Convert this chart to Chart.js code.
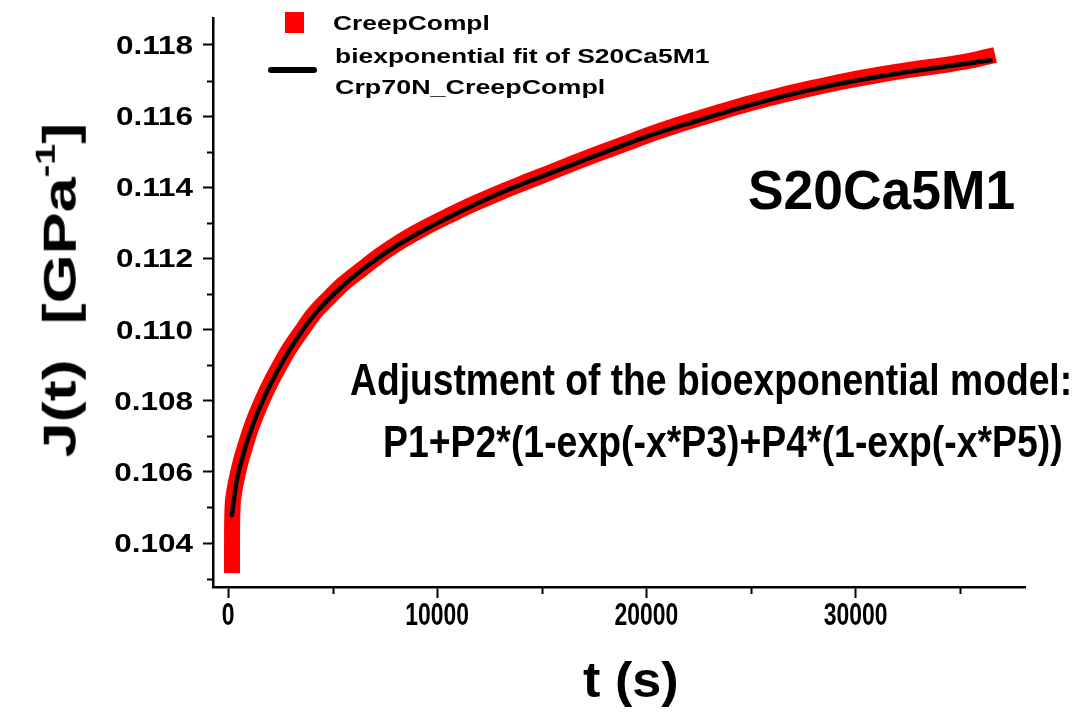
<!DOCTYPE html>
<html>
<head>
<meta charset="utf-8">
<script src="https://cdn.jsdelivr.net/npm/chart.js@4"></script>
<style>
  body { margin: 0; background: #fff; }
  #wrap { position: relative; width: 1080px; height: 717px; overflow: hidden; }
  .txt { position: absolute; white-space: nowrap; font-family: "Liberation Sans", Arial, sans-serif;
         font-weight: bold; color: #000; line-height: 1; }
  #ytitle sup { font-size: 0.6em; vertical-align: 0.75em; }
  .box { position: absolute; }
</style>
</head>
<body>
<div id="wrap">
  <canvas id="chart" width="1080" height="717"></canvas>

  <div class="box" style="left:285px;top:12px;width:19px;height:21px;background:#ff0000"></div>
  <div class="box" style="left:268px;top:67px;width:49px;height:6px;background:#000;border-radius:3px"></div>
  <div class="txt" id="lg1" style="font-size:21px">CreepCompl</div>
  <div class="txt" id="lg2" style="font-size:21px">biexponential fit of S20Ca5M1</div>
  <div class="txt" id="lg3" style="font-size:21px">Crp70N_CreepCompl</div>

  <div class="txt" id="sample" style="font-size:55px">S20Ca5M1</div>
  <div class="txt" id="adj" style="font-size:44px">Adjustment of the bioexponential model:</div>
  <div class="txt" id="formula" style="font-size:44px">P1+P2*(1-exp(-x*P3)+P4*(1-exp(-x*P5))</div>

  <div class="txt" id="ytitle" style="font-size:47px">J(t)&nbsp;&nbsp;[GPa<sup>-1</sup>]</div>
  <div class="txt" id="xtitle" style="font-size:50px">t (s)</div>
</div>
<script>
const creepT = [188, 190, 200, 260, 400, 600, 800, 1050, 1350, 1700, 2070, 2500, 2950, 3500, 4070,
  4800, 5500, 6400, 7260, 8230, 9400, 10620, 11800, 13020, 14200, 15410, 16600, 17800, 19000,
  20190, 21300, 22430, 23600, 24820, 26400, 28010, 29600, 31200, 32800, 34390, 35400, 36300];
const creepJ = [0.10338, 0.10400, 0.10470, 0.10530, 0.10577, 0.10628, 0.10668, 0.10715, 0.10762,
  0.10810, 0.10855, 0.10902, 0.10948, 0.10995, 0.11042, 0.11088, 0.11128, 0.11170, 0.11209,
  0.11247, 0.11286, 0.11322, 0.11355, 0.11386, 0.11414, 0.11442, 0.11470, 0.11497, 0.11523,
  0.11549, 0.11571, 0.11592, 0.11613, 0.11634, 0.11658, 0.11680, 0.11700, 0.11717, 0.11732,
  0.11745, 0.11755, 0.11767];

// biexponential fit curve
const fitT = [180, 400, 800, 1350, 2070, 2950, 4070, 5500, 7260, 8230, 10620, 13020, 15410,
  17800, 20190, 22430, 24820, 28010, 31200, 34390, 36460];
const fitJ = [0.10478, 0.10570, 0.10664, 0.10757, 0.10851, 0.10944, 0.11038, 0.11124, 0.11205,
  0.11242, 0.11318, 0.11384, 0.11440, 0.11494, 0.11546, 0.11587, 0.11629, 0.11676, 0.11712,
  0.11740, 0.11757];

const xTicks = [0, 10000, 20000, 30000];
const xMinor = [5000, 15000, 25000, 35000];
const yTicks = [0.104, 0.106, 0.108, 0.110, 0.112, 0.114, 0.116, 0.118];
const yMinor = [0.103, 0.105, 0.107, 0.109, 0.111, 0.113, 0.115, 0.117];

const FONT = '"Liberation Sans", Arial, sans-serif';

const creepPts = creepT.map((t, i) => ({ x: t, y: creepJ[i] }));
const fitPts = fitT.map((t, i) => ({ x: t, y: fitJ[i] }));

// stretched tick labels + minor ticks
const axisExtras = {
  id: "axisExtras",
  afterDraw(chart){
    const ctx = chart.ctx;
    const xs = chart.scales.x, ys = chart.scales.y;
    ctx.save();
    ctx.fillStyle = "#000";
    ctx.strokeStyle = "#000";
    ctx.lineWidth = 2;

    // minor ticks
    yMinor.forEach(v => {
      const py = Math.round(ys.getPixelForValue(v)) + 0.5;
      ctx.beginPath(); ctx.moveTo(ys.right - 6, py); ctx.lineTo(ys.right, py); ctx.stroke();
    });
    xMinor.forEach(v => {
      const px = Math.round(xs.getPixelForValue(v)) + 0.5;
      ctx.beginPath(); ctx.moveTo(px, xs.top); ctx.lineTo(px, xs.top + 7); ctx.stroke();
    });

    // y labels (wide)
    ctx.font = "bold 25px " + FONT;
    ctx.textAlign = "right";
    ctx.textBaseline = "alphabetic";
    ys.ticks.forEach(t => {
      const py = ys.getPixelForValue(t.value);
      ctx.save();
      ctx.translate(ys.right - 20, py + 9);
      ctx.scale(1.26, 1);
      ctx.fillText(t.value.toFixed(3), 0, 0);
      ctx.restore();
    });

    // x labels (narrow)
    ctx.font = "bold 31px " + FONT;
    ctx.textAlign = "center";
    xs.ticks.forEach(t => {
      const px = xs.getPixelForValue(t.value);
      ctx.save();
      ctx.translate(px, xs.top + 38);
      ctx.scale(0.74, 1);
      ctx.fillText(String(t.value), 0, 0);
      ctx.restore();
    });
    ctx.restore();
  }
};

new Chart(document.getElementById("chart"), {
  type: "line",
  data: {
    datasets: [
      {
        label: "CreepCompl",
        data: creepPts,
        borderColor: "#ff0000",
        backgroundColor: "#ff0000",
        borderWidth: 16,
        borderCapStyle: "square",
        borderJoinStyle: "round",
        pointRadius: 0,
        cubicInterpolationMode: "monotone",
        order: 2
      },
      {
        label: "biexponential fit of S20Ca5M1 Crp70N_CreepCompl",
        data: fitPts,
        borderColor: "#000000",
        borderWidth: 4.5,
        borderCapStyle: "round",
        pointRadius: 0,
        cubicInterpolationMode: "monotone",
        order: 1
      }
    ]
  },
  options: {
    responsive: false,
    animation: false,
    devicePixelRatio: 1,
    layout: { padding: { top: 18, right: 55, left: 0, bottom: 0 } },
    plugins: { legend: { display: false }, tooltip: { enabled: false } },
    scales: {
      x: {
        type: "linear",
        min: -720,
        max: 38100,
        afterFit: (s) => { s.height = 130; },
        afterBuildTicks: (s) => { s.ticks = xTicks.map(v => ({ value: v })); },
        ticks: { display: false },
        grid: { drawOnChartArea: false, drawTicks: true, tickLength: 11, tickColor: "#000", tickWidth: 2 },
        border: { color: "#000", width: 2.5 }
      },
      y: {
        type: "linear",
        min: 0.102765,
        max: 0.118758,
        afterFit: (s) => { s.width = 213; },
        afterBuildTicks: (s) => { s.ticks = yTicks.map(v => ({ value: v })); },
        ticks: { display: false },
        grid: { drawOnChartArea: false, drawTicks: true, tickLength: 10, tickColor: "#000", tickWidth: 2 },
        border: { color: "#000", width: 2.5 }
      }
    }
  },
  plugins: [axisExtras]
});

// place the html texts, stretched to the widths seen in the picture
function place(id, left, cy, width){
  const el = document.getElementById(id);
  const s = width / el.offsetWidth;
  el.style.left = left + "px";
  el.style.top = cy + "px";
  el.style.transformOrigin = "0 50%";
  el.style.transform = `translateY(-50%) scaleX(${s})`;
}
function placeCenter(id, cx, cy, width, rot){
  const el = document.getElementById(id);
  const s = width / el.offsetWidth;
  el.style.left = (cx - el.offsetWidth / 2) + "px";
  el.style.top = (cy - el.offsetHeight / 2) + "px";
  el.style.transformOrigin = "50% 50%";
  el.style.transform = `rotate(${rot}deg) scaleX(${s})`;
}

place("lg1", 333, 22, 157);
place("lg2", 335, 55, 375);
place("lg3", 335, 86, 270);
place("sample", 748, 190, 267);
place("adj", 350, 380, 722);
place("formula", 383, 442, 680);
placeCenter("ytitle", 57, 290, 335, -90);
placeCenter("xtitle", 631, 680, 96, 0);
</script>
</body>
</html>
